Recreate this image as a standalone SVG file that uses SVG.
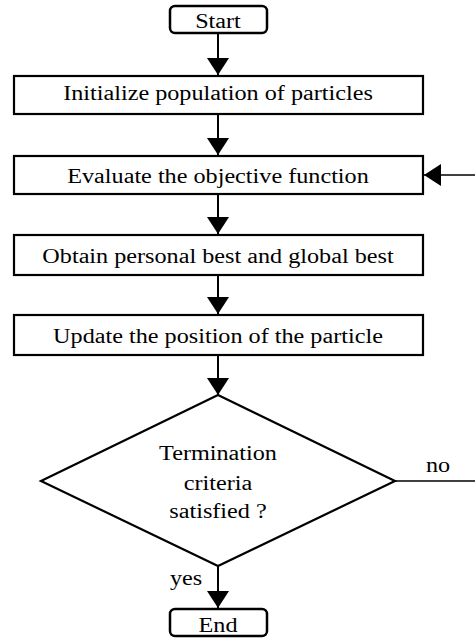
<svg xmlns="http://www.w3.org/2000/svg" width="475" height="639" viewBox="0 0 475 639">
<style>
.box{fill:#fff;stroke:#000;stroke-width:2.2}
.term{fill:#fff;stroke:#000;stroke-width:2.5}
.c{stroke:#000;stroke-width:2;fill:none}
.thin{stroke:#000;stroke-width:1.5;fill:none}
</style>
<defs>
<marker id="ah" viewBox="0 0 17 22" refX="17" refY="11" markerWidth="17" markerHeight="22" markerUnits="userSpaceOnUse" orient="auto">
<path d="M0,0 L17,11 L0,22 z" fill="#000"/>
</marker>
</defs>
<rect width="475" height="639" fill="#fff"/>
<g font-family="'Liberation Serif', 'Times New Roman', 'DejaVu Serif', serif" font-size="20" text-anchor="middle" fill="#000">
<g id="connectors">
<line class="c" x1="218" y1="33" x2="218" y2="75" marker-end="url(#ah)"/>
<line class="c" x1="218" y1="114" x2="218" y2="155" marker-end="url(#ah)"/>
<line class="c" x1="218" y1="194" x2="218" y2="234" marker-end="url(#ah)"/>
<line class="c" x1="218" y1="275" x2="218" y2="314" marker-end="url(#ah)"/>
<line class="c" x1="218" y1="355" x2="218" y2="395" marker-end="url(#ah)"/>
<line class="c" x1="218" y1="566" x2="218" y2="608" marker-end="url(#ah)"/>
<line class="thin" x1="395" y1="481" x2="475" y2="481"/>
<line class="thin" x1="475" y1="175" x2="424" y2="175" marker-end="url(#ah)"/>
<text transform="matrix(1.21 0 0 1 438 472)">no</text>
<text transform="matrix(1.21 0 0 1 186 585)">yes</text>
</g>
<g id="start">
<rect class="term" x="170" y="6" width="97" height="27" rx="5"/>
<text transform="matrix(1.21 0 0 1 218 28)">Start</text>
</g>
<g id="init">
<rect class="box" x="14" y="76" width="409" height="38"/>
<text transform="matrix(1.21 0 0 1 218 100)">Initialize population of particles</text>
</g>
<g id="evaluate">
<rect class="box" x="14" y="156" width="409" height="38"/>
<text transform="matrix(1.21 0 0 1 218 183)">Evaluate the objective function</text>
</g>
<g id="obtain">
<rect class="box" x="14" y="235" width="409" height="40"/>
<text transform="matrix(1.21 0 0 1 218 263)">Obtain personal best and global best</text>
</g>
<g id="update">
<rect class="box" x="14" y="315" width="409" height="40"/>
<text transform="matrix(1.21 0 0 1 218 343)">Update the position of the particle</text>
</g>
<g id="decision">
<polygon class="box" points="218,395 395,481 218,566 41,481"/>
<text transform="matrix(1.21 0 0 1 218 460)">Termination</text>
<text transform="matrix(1.21 0 0 1 218 490)">criteria</text>
<text transform="matrix(1.21 0 0 1 218 518)">satisfied ?</text>
</g>
<g id="end">
<rect class="term" x="170" y="609" width="97" height="27" rx="5"/>
<text transform="matrix(1.21 0 0 1 218 632)">End</text>
</g>
</g>
</svg>
